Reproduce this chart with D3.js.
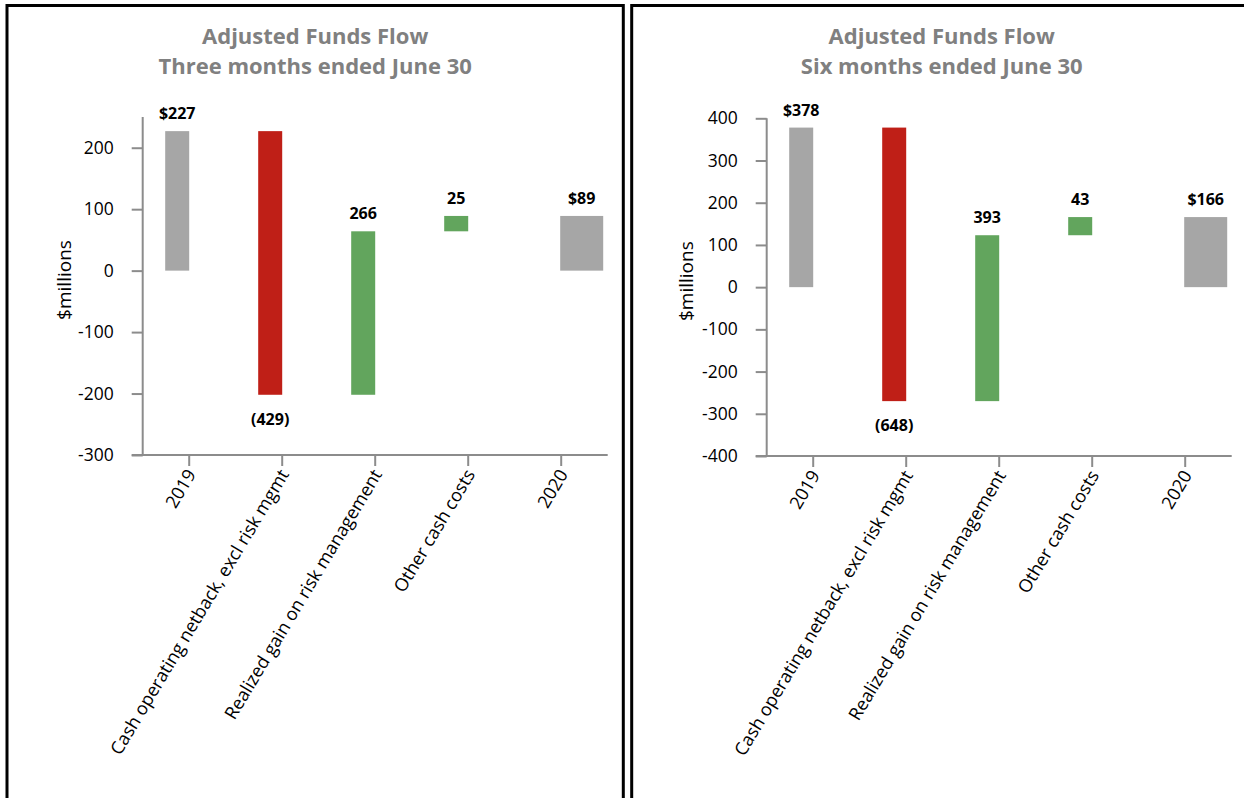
<!DOCTYPE html>
<html>
<head>
<meta charset="utf-8">
<script src="https://cdn.jsdelivr.net/npm/d3@7"></script>
<style>
  html, body { margin: 0; padding: 0; background: #ffffff; }
  svg { display: block; }
  text { font-family: "Open Sans", "Noto Sans", sans-serif; }
</style>
</head>
<body>
<script>
// Waterfall steps shared by both periods
const categories = [
  "2019",
  "Cash operating netback, excl risk mgmt",
  "Realized gain on risk management",
  "Other cash costs",
  "2020"
];
// Which steps are totals (drawn from zero) versus changes (floating)
const stepKinds = ["total", "change", "change", "change", "total"];

// $ millions
const threeMonthValues = [227, -429, 266, 25, 89];
const sixMonthValues = [378, -648, 393, 43, 166];

const threeMonthTicks = [-300, -200, -100, 0, 100, 200];
const sixMonthTicks = [-400, -300, -200, -100, 0, 100, 200, 300, 400];

const threeMonthDomain = [-300, 250];
const sixMonthDomain = [-400, 400];

const chartTitle = "Adjusted Funds Flow";
const periodTitles = ["Three months ended June 30", "Six months ended June 30"];
const yAxisTitle = "$millions";

const COLORS = {
  total: "#a6a6a6",
  down: "#bf1f17",
  up: "#62a55d",
  axis: "#8c8c8c",
  title: "#808080",
  text: "#000000"
};

const W = 1244, H = 798;
const svg = d3.select("body").append("svg")
  .attr("width", W).attr("height", H);

// Plain hyphen for negatives on the axis
const tickFmt = v => (v < 0 ? "-" : "") + Math.abs(v);

function labelFor(v, kind) {
  if (kind === "total") return "$" + v;
  if (v < 0) return "(" + (-v) + ")";
  return String(v);
}

function drawPanel(cfg) {
  const g = svg.append("g");

  // Framed panel (runs off the bottom edge of the page)
  g.append("rect")
    .attr("x", cfg.frameX).attr("y", 5.5)
    .attr("width", cfg.frameW).attr("height", 840)
    .attr("fill", "#ffffff")
    .attr("stroke", "#000000").attr("stroke-width", 3);

  const cx = cfg.frameX + cfg.frameW / 2;
  g.append("text")
    .attr("x", cx).attr("y", 44)
    .attr("text-anchor", "middle")
    .attr("font-size", 22).attr("font-weight", 700)
    .attr("fill", COLORS.title)
    .text(chartTitle);
  g.append("text")
    .attr("x", cx).attr("y", 74)
    .attr("text-anchor", "middle")
    .attr("font-size", 22).attr("font-weight", 700)
    .attr("fill", COLORS.title)
    .text(cfg.period);

  const y = d3.scaleLinear().domain(cfg.domain).range([cfg.bottom, cfg.top]);
  const x = d3.scaleBand().domain(categories).range([cfg.left, cfg.right]).padding(0);
  const center = c => x(c) + x.bandwidth() / 2;

  // Running totals for the floating steps
  let running = 0;
  const bars = cfg.values.map((v, i) => {
    const kind = stepKinds[i];
    let from, to;
    if (kind === "total") { from = 0; to = v; running = v; }
    else { from = running; to = running + v; running = to; }
    return { cat: categories[i], value: v, kind, from, to, last: i === categories.length - 1 };
  });

  const barW = 24;
  const closingW = 43;
  g.selectAll("rect.bar").data(bars).join("rect")
    .attr("class", "bar")
    .attr("x", d => d.last ? center(d.cat) - 1 : center(d.cat) - barW)
    .attr("width", d => d.last ? closingW : barW)
    .attr("y", d => y(Math.max(d.from, d.to)))
    .attr("height", d => Math.abs(y(d.from) - y(d.to)))
    .attr("fill", d => d.kind === "total" ? COLORS.total : (d.value < 0 ? COLORS.down : COLORS.up));

  // Value labels: above rising / total bars, below falling bars
  g.selectAll("text.val").data(bars).join("text")
    .attr("class", "val")
    .attr("x", d => d.last ? center(d.cat) - 1 + closingW / 2 : center(d.cat) - barW / 2)
    .attr("y", d => d.value < 0 ? y(Math.min(d.from, d.to)) + 30 : y(Math.max(d.from, d.to)) - 12)
    .attr("text-anchor", "middle")
    .attr("font-size", 16).attr("font-weight", 700)
    .attr("fill", COLORS.text)
    .text(d => labelFor(d.value, d.kind));

  // Y axis
  const yAxis = d3.axisLeft(y).tickValues(cfg.ticks).tickSize(11).tickPadding(18)
    .tickFormat(tickFmt);
  const ya = g.append("g").attr("transform", `translate(${cfg.left},0)`).call(yAxis);
  ya.select(".domain").attr("stroke", COLORS.axis).attr("stroke-width", 2)
    .attr("d", `M0,${cfg.top}V${cfg.bottom}`);
  ya.selectAll(".tick line").attr("stroke", COLORS.axis).attr("stroke-width", 2);
  ya.selectAll(".tick text")
    .attr("font-size", 17.5).attr("fill", COLORS.text)
    .attr("font-family", "'Open Sans', 'Noto Sans', sans-serif");

  // X axis along the bottom of the plot
  const xAxis = d3.axisBottom(x).tickSize(11).tickSizeOuter(0);
  const xa = g.append("g").attr("transform", `translate(0,${cfg.bottom})`).call(xAxis);
  xa.select(".domain").attr("stroke", COLORS.axis).attr("stroke-width", 2)
    .attr("d", `M${cfg.left - 11},0H${cfg.right}`);
  xa.selectAll(".tick line").attr("stroke", COLORS.axis).attr("stroke-width", 2);
  xa.selectAll(".tick text")
    .attr("font-size", 18).attr("fill", COLORS.text)
    .attr("font-family", "'Open Sans', 'Noto Sans', sans-serif")
    .attr("text-anchor", "end")
    .attr("x", 0).attr("y", 0).attr("dy", "0.35em")
    .attr("transform", "translate(2,16) rotate(-59)");

  // Y axis title
  g.append("text")
    .attr("transform", `translate(${cfg.yTitleX},${(cfg.top + cfg.bottom) / 2 - 6}) rotate(-90)`)
    .attr("text-anchor", "middle").attr("dy", "0.35em")
    .attr("font-size", 19).attr("fill", COLORS.text)
    .text(yAxisTitle);
}

drawPanel({
  frameX: 7, frameW: 616.3,
  left: 142.7, right: 607.7, top: 117, bottom: 455,
  domain: threeMonthDomain, ticks: threeMonthTicks,
  values: threeMonthValues, period: periodTitles[0],
  yTitleX: 64
});

drawPanel({
  frameX: 631.7, frameW: 620,
  left: 766.7, right: 1231.7, top: 118.3, bottom: 456,
  domain: sixMonthDomain, ticks: sixMonthTicks,
  values: sixMonthValues, period: periodTitles[1],
  yTitleX: 686
});
</script>
</body>
</html>
